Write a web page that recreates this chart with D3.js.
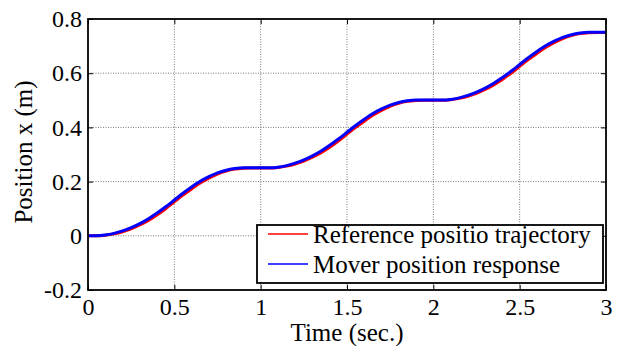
<!DOCTYPE html>
<html>
<head>
<meta charset="utf-8">
<script src="https://cdn.jsdelivr.net/npm/d3@7"></script>
<style>
  body { margin: 0; background: #fff; }
  text { font-family: "Liberation Serif", "Times New Roman", serif; fill: #000; }
</style>
</head>
<body>
<div id="chart"></div>
<script>
// Time samples (sec.)
const time = [0, 0.05, 0.1, 0.15, 0.2, 0.25, 0.3, 0.35, 0.4, 0.45, 0.5, 0.55, 0.6, 0.65, 0.7, 0.75, 0.8, 0.85, 0.9, 0.95, 1.0,
  1.05, 1.1, 1.15, 1.2, 1.25, 1.3, 1.35, 1.4, 1.45, 1.5, 1.55, 1.6, 1.65, 1.7, 1.75, 1.8, 1.85, 1.9, 1.95, 2.0,
  2.05, 2.1, 2.15, 2.2, 2.25, 2.3, 2.35, 2.4, 2.45, 2.5, 2.55, 2.6, 2.65, 2.7, 2.75, 2.8, 2.85, 2.9, 2.95, 3.0];

// Reference position trajectory (m)
const reference = [0, 0.000, 0.002, 0.007, 0.015, 0.026, 0.040, 0.057, 0.077, 0.100, 0.125, 0.150, 0.173, 0.195, 0.213, 0.228, 0.239, 0.246, 0.249, 0.250, 0.250,
  0.250, 0.252, 0.257, 0.265, 0.276, 0.290, 0.307, 0.327, 0.350, 0.375, 0.400, 0.423, 0.445, 0.463, 0.478, 0.489, 0.496, 0.499, 0.500, 0.500,
  0.500, 0.502, 0.507, 0.515, 0.526, 0.540, 0.557, 0.577, 0.600, 0.625, 0.650, 0.673, 0.695, 0.713, 0.728, 0.739, 0.746, 0.749, 0.750, 0.750];

// Mover position response (m)
const response = [0, 0.000, 0.003, 0.009, 0.018, 0.030, 0.045, 0.063, 0.084, 0.107, 0.132, 0.157, 0.180, 0.201, 0.218, 0.232, 0.242, 0.248, 0.251, 0.251, 0.251,
  0.251, 0.253, 0.259, 0.268, 0.280, 0.295, 0.313, 0.334, 0.357, 0.382, 0.407, 0.430, 0.451, 0.468, 0.482, 0.492, 0.498, 0.501, 0.501, 0.501,
  0.501, 0.503, 0.509, 0.518, 0.530, 0.545, 0.563, 0.584, 0.607, 0.632, 0.657, 0.680, 0.701, 0.718, 0.732, 0.742, 0.748, 0.751, 0.751, 0.751];

const xTicks = [0, 0.5, 1, 1.5, 2, 2.5, 3];
const yTicks = [-0.2, 0, 0.2, 0.4, 0.6, 0.8];
const legendLabels = ["Reference positio trajectory", "Mover position response"];

// Dimensions
const width = 618, height = 346;
const margin = { top: 19, right: 12, bottom: 56, left: 88 };
const innerW = width - margin.left - margin.right;
const innerH = height - margin.top - margin.bottom;
const serif = "'Liberation Serif', 'Times New Roman', serif";

const svg = d3.select("#chart")
  .append("svg")
  .attr("width", width)
  .attr("height", height);

const g = svg.append("g")
  .attr("transform", "translate(" + margin.left + "," + margin.top + ")");

const x = d3.scaleLinear().domain([0, 3]).range([0, innerW]);
const y = d3.scaleLinear().domain([-0.2, 0.8]).range([innerH, 0]);

// Grid lines
g.selectAll(".vgrid")
  .data(xTicks.slice(1, -1))
  .enter()
  .append("line")
  .attr("x1", d => x(d)).attr("x2", d => x(d))
  .attr("y1", 0).attr("y2", innerH)
  .attr("stroke", "#555")
  .attr("stroke-width", 0.8)
  .attr("stroke-dasharray", "1,1.5");

g.selectAll(".hgrid")
  .data(yTicks.slice(1, -1))
  .enter()
  .append("line")
  .attr("x1", 0).attr("x2", innerW)
  .attr("y1", d => y(d)).attr("y2", d => y(d))
  .attr("stroke", "#555")
  .attr("stroke-width", 0.8)
  .attr("stroke-dasharray", "1,1.5");

// Axes (ticks inside, mirrored on top and right)
const fmt = d => d === 0 ? "0" : String(d);

g.append("g")
  .attr("transform", "translate(0," + innerH + ")")
  .call(d3.axisBottom(x).tickValues(xTicks).tickFormat(fmt).tickSizeInner(-5).tickSizeOuter(0).tickPadding(8))
  .attr("font-family", serif)
  .attr("font-size", 24);

g.append("g")
  .call(d3.axisLeft(y).tickValues(yTicks).tickFormat(fmt).tickSizeInner(-5).tickSizeOuter(0).tickPadding(6))
  .attr("font-family", serif)
  .attr("font-size", 24);

g.append("g")
  .call(d3.axisTop(x).tickValues(xTicks).tickFormat("").tickSizeInner(-5).tickSizeOuter(0));

g.append("g")
  .attr("transform", "translate(" + innerW + ",0)")
  .call(d3.axisRight(y).tickValues(yTicks).tickFormat("").tickSizeInner(-5).tickSizeOuter(0));

g.selectAll(".domain").remove();
g.selectAll(".tick line").attr("stroke", "#000").attr("stroke-width", 1);
g.selectAll(".tick text").attr("fill", "#000");

// Lines
const pts = (vals) => time.map((t, i) => [t, vals[i]]);
const line = d3.line()
  .x(d => x(d[0]))
  .y(d => y(d[1]))
  .curve(d3.curveMonotoneX);

g.append("path")
  .datum(pts(reference))
  .attr("d", line)
  .attr("fill", "none")
  .attr("stroke", "#ff0000")
  .attr("stroke-width", 3);

g.append("path")
  .datum(pts(response))
  .attr("d", line)
  .attr("fill", "none")
  .attr("stroke", "#0000ff")
  .attr("stroke-width", 3);

// Box
g.append("rect")
  .attr("x", 0).attr("y", 0)
  .attr("width", innerW).attr("height", innerH)
  .attr("fill", "none")
  .attr("stroke", "#000")
  .attr("stroke-width", 1.8);

// Legend
const legend = svg.append("g").attr("transform", "translate(257,225)");
legend.append("rect")
  .attr("width", 346).attr("height", 58)
  .attr("fill", "#fff")
  .attr("stroke", "#000")
  .attr("stroke-width", 1.8);

const colors = ["#ff0000", "#0000ff"];
legendLabels.forEach((lab, i) => {
  const cy = 9 + i * 30;
  legend.append("line")
    .attr("x1", 11).attr("x2", 51)
    .attr("y1", cy).attr("y2", cy)
    .attr("stroke", colors[i])
    .attr("stroke-width", 1.5);
  legend.append("text")
    .attr("x", 56).attr("y", cy + 9)
    .style("font-size", "25px")
    .text(lab);
});

// Axis titles
svg.append("text")
  .attr("x", margin.left + innerW / 2)
  .attr("y", 341)
  .attr("text-anchor", "middle")
  .style("font-size", "25px")
  .text("Time (sec.)");

svg.append("text")
  .attr("transform", "translate(32,152) rotate(-90)")
  .attr("text-anchor", "middle")
  .style("font-size", "25px")
  .text("Position x (m)");
</script>
</body>
</html>
